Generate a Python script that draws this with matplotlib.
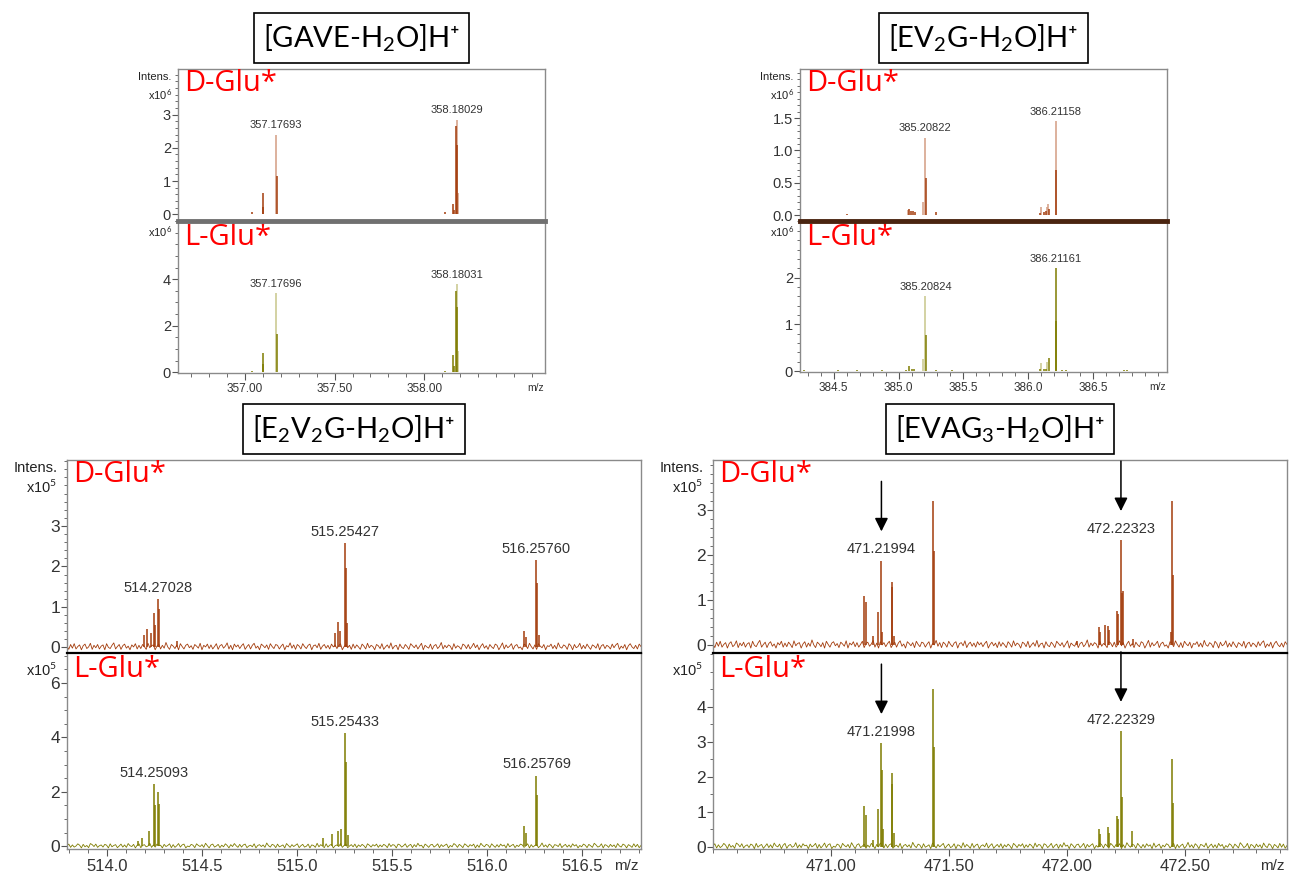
import matplotlib
matplotlib.use('Agg')
import matplotlib.pyplot as plt
from matplotlib.ticker import MultipleLocator, FixedLocator, FormatStrFormatter
import numpy as np

plt.rcParams['font.family'] = 'Liberation Sans'
plt.rcParams['mathtext.fontset'] = 'custom'
plt.rcParams['mathtext.rm'] = 'Lato'
plt.rcParams['mathtext.it'] = 'Lato:italic'
plt.rcParams['mathtext.bf'] = 'Lato:bold'

# ---- data (intensities in units of the panel exponent) ----
# [GAVE-H2O]H+  (x10^6)
gave_d_mz = [357.043, 357.102, 357.105, 357.178, 358.115, 358.160, 358.162, 358.178, 358.183]
gave_d_int = [0.08, 0.65, 0.22, 1.15, 0.06, 0.30, 0.12, 2.65, 2.10]
gave_d_lite_mz = [357.175, 358.181, 358.188]
gave_d_lite_int = [2.40, 2.85, 0.65]
gave_d_labels = ['357.17693', '358.18029']
gave_d_label_mz = [357.175, 358.181]

gave_l_mz = [357.043, 357.102, 357.105, 357.178, 358.115, 358.160, 358.162, 358.178, 358.183]
gave_l_int = [0.05, 0.85, 0.35, 1.65, 0.05, 0.75, 0.25, 3.50, 2.80]
gave_l_lite_mz = [357.175, 358.181, 358.188]
gave_l_lite_int = [3.40, 3.80, 0.90]
gave_l_labels = ['357.17696', '358.18031']
gave_l_label_mz = [357.175, 358.181]

# [EV2G-H2O]H+  (x10^6)
ev2g_d_mz = [384.60, 385.08, 385.095, 385.11, 385.125, 385.21, 385.285, 386.09, 386.12, 386.14, 386.158, 386.215]
ev2g_d_int = [0.02, 0.10, 0.07, 0.06, 0.05, 0.57, 0.05, 0.04, 0.05, 0.07, 0.10, 0.70]
ev2g_d_lite_mz = [385.075, 385.19, 385.207, 386.10, 386.145, 386.153, 386.212]
ev2g_d_lite_int = [0.08, 0.20, 1.20, 0.12, 0.12, 0.18, 1.45]
ev2g_d_labels = ['385.20822', '386.21158']
ev2g_d_label_mz = [385.207, 386.212]

ev2g_l_mz = [384.27, 384.53, 384.68, 384.87, 385.06, 385.08, 385.10, 385.12, 385.21,
             385.29, 385.41, 386.09, 386.12, 386.14, 386.158, 386.212, 386.216, 386.26,
             386.29, 386.74, 386.76]
ev2g_l_int = [0.02, 0.02, 0.02, 0.02, 0.03, 0.10, 0.04, 0.04, 0.78,
              0.03, 0.02, 0.05, 0.04, 0.05, 0.28, 2.20, 1.07, 0.02,
              0.02, 0.02, 0.02]
ev2g_l_lite_mz = [385.19, 385.207, 386.10, 386.145]
ev2g_l_lite_int = [0.25, 1.60, 0.18, 0.20]
ev2g_l_labels = ['385.20824', '386.21161']
ev2g_l_label_mz = [385.207, 386.212]

# [E2V2G-H2O]H+  (x10^5)
e2v2g_d_mz = [514.195, 514.213, 514.232, 514.249, 514.254, 514.271, 514.275, 514.369,
              515.200, 515.217, 515.226, 515.254, 515.258, 515.265,
              516.197, 516.206, 516.258, 516.262, 516.273]
e2v2g_d_int = [0.30, 0.45, 0.35, 0.85, 0.55, 1.20, 0.95, 0.15,
               0.35, 0.62, 0.40, 2.58, 1.95, 0.60,
               0.40, 0.25, 2.15, 1.60, 0.30]
e2v2g_d_labels = ['514.27028', '515.25427', '516.25760']
e2v2g_d_label_mz = [514.271, 515.254, 516.258]

e2v2g_l_mz = [514.163, 514.184, 514.221, 514.249, 514.254, 514.271, 514.275,
              515.139, 515.182, 515.215, 515.230, 515.254, 515.258, 515.269,
              516.197, 516.206, 516.260, 516.265]
e2v2g_l_int = [0.20, 0.30, 0.55, 2.28, 1.50, 2.00, 1.55,
               0.30, 0.45, 0.55, 0.65, 4.15, 3.10, 0.40,
               0.75, 0.50, 2.60, 1.90]
e2v2g_l_labels = ['514.25093', '515.25433', '516.25769']
e2v2g_l_label_mz = [514.249, 515.254, 516.260]

# [EVAG3-H2O]H+  (x10^5)
evag3_d_mz = [471.141, 471.147, 471.179, 471.198, 471.213, 471.216, 471.256, 471.259,
              471.268, 471.431, 471.435, 472.040, 472.133, 472.139, 472.159, 472.171,
              472.176, 472.210, 472.214, 472.227, 472.231, 472.236, 472.278, 472.440,
              472.444, 472.447]
evag3_d_int = [1.10, 0.95, 0.20, 0.75, 1.88, 0.30, 1.40, 1.30,
               0.20, 3.20, 2.10, 0.10, 0.40, 0.30, 0.45, 0.42,
               0.35, 0.76, 0.70, 2.33, 1.15, 1.20, 0.15, 0.30,
               3.20, 1.55]
evag3_d_labels = ['471.21994', '472.22323']
evag3_d_label_mz = [471.213, 472.227]

evag3_l_mz = [471.141, 471.147, 471.179, 471.198, 471.213, 471.216, 471.221, 471.256,
              471.259, 471.268, 471.431, 471.435, 472.133, 472.139, 472.171, 472.176,
              472.210, 472.214, 472.227, 472.231, 472.273, 472.444, 472.447]
evag3_l_int = [1.15, 0.90, 0.20, 1.08, 2.95, 2.20, 0.50, 2.10,
               1.80, 0.40, 4.50, 2.85, 0.50, 0.35, 0.55, 0.40,
               0.86, 0.80, 3.30, 1.43, 0.45, 2.50, 1.25]
evag3_l_labels = ['471.21998', '472.22329']
evag3_l_label_mz = [471.213, 472.227]

noise_a = [
    0.03, -0.05, 0.07, -0.02, 0.09, -0.04, 0.02, 0.06, -0.06, 0.04,
    0.08, -0.03, 0.01, 0.10, -0.05, 0.05, -0.01, 0.07, -0.04, 0.03,
    0.06, -0.06, 0.09, 0.00, -0.03, 0.05, 0.11, -0.04, 0.02, 0.07,
    -0.05, 0.04, 0.08, -0.02, 0.03, -0.06, 0.06, 0.01, 0.09, -0.04,
    0.05, -0.03, 0.07, 0.02, -0.05, 0.10, -0.01, 0.04, 0.06, -0.06,
    0.03, 0.08, -0.04, 0.05, -0.02, 0.12, 0.01, -0.05, 0.07, 0.03,
    -0.03, 0.06, -0.06, 0.09, 0.02, -0.04, 0.05, 0.08, -0.01, 0.04,
    -0.05, 0.07, 0.03, -0.02, 0.10, -0.06, 0.05, 0.01, 0.08, -0.03,
    0.06, -0.04, 0.02, 0.09, -0.05, 0.04, 0.07, -0.02, 0.03, 0.11,
    -0.04, 0.05, -0.06, 0.08, 0.01, 0.06, -0.03, 0.04, 0.09, -0.05,
    0.02, 0.07, -0.04, 0.05, 0.10, -0.02, 0.03, -0.06, 0.08, 0.04,
    -0.01, 0.06, -0.05, 0.09, 0.02, -0.03, 0.07, 0.05, -0.04, 0.03,
    0.08, -0.06, 0.04, 0.01, 0.11, -0.02, 0.06, -0.05, 0.07, 0.03,
    -0.04, 0.09, 0.02, -0.03, 0.05, 0.08, -0.06, 0.04, 0.06, -0.01,
    0.10, -0.05, 0.03, 0.07, -0.02, 0.05, -0.04, 0.08, 0.01, 0.06,
    -0.03, 0.04, 0.09, -0.06, 0.02, 0.07, -0.01, 0.05, -0.05, 0.08]
noise_b = [
    -0.02, 0.06, 0.01, -0.05, 0.08, 0.03, -0.04, 0.10, -0.01, 0.05,
    0.02, -0.06, 0.07, 0.04, -0.03, 0.09, -0.05, 0.01, 0.06, -0.02,
    0.11, -0.04, 0.03, 0.05, -0.06, 0.08, 0.00, -0.03, 0.07, 0.02,
    -0.05, 0.09, 0.04, -0.01, 0.06, -0.04, 0.03, 0.10, -0.06, 0.05,
    0.01, -0.02, 0.08, -0.05, 0.04, 0.07, -0.03, 0.02, 0.12, -0.04,
    0.05, -0.01, 0.06, 0.03, -0.06, 0.09, -0.02, 0.04, 0.01, -0.05,
    0.08, 0.05, -0.03, 0.07, -0.04, 0.02, 0.10, -0.01, 0.06, -0.06,
    0.03, 0.09, -0.02, 0.04, -0.05, 0.07, 0.01, -0.03, 0.08, 0.05,
    -0.06, 0.02, 0.11, -0.04, 0.06, -0.01, 0.03, 0.09, -0.05, 0.04,
    0.07, -0.02, 0.01, -0.06, 0.08, 0.05, -0.03, 0.10, 0.02, -0.04,
    0.06, -0.05, 0.09, 0.03, -0.01, 0.07, -0.06, 0.04, 0.02, 0.08,
    -0.03, 0.05, -0.04, 0.11, 0.01, -0.02, 0.06, 0.03, -0.05, 0.09,
    0.04, -0.06, 0.07, -0.01, 0.02, 0.10, -0.04, 0.05, -0.03, 0.08,
    0.01, -0.05, 0.06, 0.03, -0.02, 0.09, -0.06, 0.04, 0.07, -0.03,
    0.05, 0.02, -0.04, 0.08, -0.01, 0.06, 0.10, -0.05, 0.03, -0.02,
    0.07, -0.06, 0.04, 0.09, 0.01, -0.03, 0.05, -0.04, 0.08, 0.02]
noise_d = noise_a + noise_b
noise_l = noise_b[::-1] + noise_a[::-1]

# ---- style ----
D_COL, D_LITE = '#A33C0C', '#D39C82'
L_COL, L_LITE = '#7F7C00', '#C8C68A'
FRAME = '#8a8a8a'

W, H = 1291, 877
fig = plt.figure(figsize=(W / 100, H / 100), dpi=100)
fig.patch.set_facecolor('white')


def px_axes(l, r, t, b):
    return fig.add_axes([l / W, 1 - b / H, (r - l) / W, (b - t) / H])


def style_axes(ax, ylim, ymaj, ymax, ymin, yfmt, ysize):
    ax.set_ylim(*ylim)
    ax.yaxis.set_major_locator(FixedLocator(np.arange(0, ymax + 1e-6, ymaj)))
    ax.yaxis.set_minor_locator(MultipleLocator(ymin))
    ax.yaxis.set_major_formatter(FormatStrFormatter(yfmt))
    for s in ax.spines.values():
        s.set_color(FRAME)
        s.set_linewidth(1)
    ax.tick_params(axis='y', which='major', direction='out', length=4, width=0.8,
                   color='#555555', labelsize=ysize, labelcolor='#333333', pad=1)
    ax.tick_params(axis='y', which='minor', direction='out', length=2.5, width=0.6,
                   color='#555555')


def draw_spec(ax, mz, inten, lite_mz, lite_int, col, lite, lw):
    ax.vlines(lite_mz, 0, lite_int, colors=lite, lw=lw)
    ax.vlines(mz, 0, inten, colors=col, lw=lw)


def peak_top(all_mz, all_int, target):
    return max(h for m, h in zip(all_mz, all_int) if abs(m - target) < 0.012)


def label_peaks(ax, all_mz, all_int, lab_mz, labs, size, arrows=False):
    for m, t in zip(lab_mz, labs):
        h = peak_top(all_mz, all_int, m)
        ax.annotate(t, xy=(m, h), xytext=(0, 3), textcoords='offset points',
                    ha='center', va='bottom', fontsize=size, color='#333333')
        if arrows:
            ax.annotate('', xy=(m, h), xytext=(0, 57), textcoords='offset points',
                        annotation_clip=False,
                        arrowprops=dict(arrowstyle='-|>', color='black', lw=1.1,
                                        mutation_scale=20, shrinkA=0, shrinkB=21))


def panel(title, box, xlim, xmajor, xfmt, expo, d, l, sep, small):
    left, right, top, mid, bottom = box
    axd = px_axes(left, right, top, mid)
    axl = px_axes(left, right, mid, bottom)
    fs_tick = 10.5 if small else 12.5
    fs_x = 8.5 if small else 12
    fs_lab = 8 if small else 10.5
    fs_int = 8 if small else 10.5
    for ax, c in ((axd, d), (axl, l)):
        ax.set_xlim(*xlim)
        style_axes(ax, c['ylim'], c['ymaj'], c['ymax'], c['ymin'], c['yfmt'], fs_tick)
        if c.get('noise') is not None:
            nz = c['noise']
            ax.plot(np.linspace(xlim[0], xlim[1], len(nz)), nz, color=c['col'], lw=0.6)
        draw_spec(ax, c['mz'], c['int'], c['lite_mz'], c['lite_int'],
                  c['col'], c['lite'], 1.1)
        label_peaks(ax, c['mz'] + c['lite_mz'], c['int'] + c['lite_int'],
                    c['lab_mz'], c['labs'], fs_lab, arrows=c.get('arrows', False))
        ax.text(0.01 if not small else 0.018, c['ty'], c['name'], transform=ax.transAxes,
                ha='left', va='top', color='red', fontsize=21, family='Open Sans')
        ax.text(-0.017, c['xy'], 'x10$^{%d}$' % expo, transform=ax.transAxes,
                ha='right', va='center', fontsize=fs_int, color='#222222')
    axd.text(-0.017, d['iy'], 'Intens.', transform=axd.transAxes, ha='right',
             va='center', fontsize=fs_int, color='#222222')

    axd.tick_params(axis='x', which='both', bottom=False, labelbottom=False)
    axd.spines['bottom'].set_visible(False)
    axl.spines['top'].set_color(sep[0])
    axl.spines['top'].set_linewidth(sep[1])
    axl.spines['top'].set_zorder(5)

    axl.xaxis.set_major_locator(FixedLocator(xmajor))
    axl.xaxis.set_major_formatter(FormatStrFormatter(xfmt))
    axl.xaxis.set_minor_locator(MultipleLocator(0.1))
    axl.tick_params(axis='x', which='major', direction='out', length=5, width=0.8,
                    color='#555555', labelsize=fs_x, labelcolor='#333333', pad=2)
    axl.tick_params(axis='x', which='minor', direction='out', length=3, width=0.6,
                    color='#555555')
    axl.annotate('m/z', xy=(0.975, 0), xycoords='axes fraction', xytext=(0, -7),
                 textcoords='offset points', ha='center', va='top',
                 fontsize=fs_x - 1, color='#333333')

    cx = (left + right) / 2
    fig.text(cx / W, 1 - (top - 31) / H, title, ha='center', va='center',
             fontsize=21, family=['Lato', 'DejaVu Sans'],
             bbox=dict(boxstyle='square,pad=0.32', fc='white', ec='black', lw=1.2))
    return axd, axl


def cfg(name, mz, inten, lite_mz, lite_int, labs, lab_mz, col, lite, ylim, ymaj, ymax,
        ymin, yfmt, ty, xy, iy=None, nz=None, arrows=False):
    return dict(name=name, mz=mz, int=inten, lite_mz=lite_mz, lite_int=lite_int,
                labs=labs, lab_mz=lab_mz, col=col, lite=lite, ylim=ylim, ymaj=ymaj,
                ymax=ymax, ymin=ymin, yfmt=yfmt, ty=ty, xy=xy, iy=iy, noise=nz,
                arrows=arrows)


# panel 1: GAVE
panel('[GAVE-H$_2$O]H⁺', (178, 545, 69, 221, 373), (356.63, 358.67),
      [357.0, 357.5, 358.0], '%.2f', 6,
      cfg('D-Glu*', gave_d_mz, gave_d_int, gave_d_lite_mz, gave_d_lite_int,
          gave_d_labels, gave_d_label_mz, D_COL, D_LITE, (-0.2, 4.37), 1, 3, 0.2, '%d',
          1.0, 0.83, iy=0.945),
      cfg('L-Glu*', gave_l_mz, gave_l_int, gave_l_lite_mz, gave_l_lite_int,
          gave_l_labels, gave_l_label_mz, L_COL, L_LITE, (-0.03, 6.5), 2, 4, 0.5, '%d',
          0.99, 0.93),
      ('#707070', 3.5), True)

# panel 2: EV2G
panel('[EV$_2$G-H$_2$O]H⁺', (800, 1167, 69, 221, 372), (384.24, 387.07),
      [384.5, 385.0, 385.5, 386.0, 386.5], '%.1f', 6,
      cfg('D-Glu*', ev2g_d_mz, ev2g_d_int, ev2g_d_lite_mz, ev2g_d_lite_int,
          ev2g_d_labels, ev2g_d_label_mz, D_COL, D_LITE, (-0.09, 2.26), 0.5, 1.5, 0.1,
          '%.1f', 1.0, 0.83, iy=0.945),
      cfg('L-Glu*', ev2g_l_mz, ev2g_l_int, ev2g_l_lite_mz, ev2g_l_lite_int,
          ev2g_l_labels, ev2g_l_label_mz, L_COL, L_LITE, (-0.02, 3.21), 1, 2, 0.2, '%d',
          0.99, 0.93),
      ('#4a2410', 3.5), True)

# panel 3: E2V2G
panel('[E$_2$V$_2$G-H$_2$O]H⁺', (67, 641, 460, 653, 849), (513.79, 516.81),
      [514.0, 514.5, 515.0, 515.5, 516.0, 516.5], '%.1f', 5,
      cfg('D-Glu*', e2v2g_d_mz, e2v2g_d_int, [], [], e2v2g_d_labels, e2v2g_d_label_mz,
          D_COL, D_LITE, (-0.14, 4.63), 1, 3, 0.2, '%d', 1.0, 0.86, iy=0.96, nz=noise_d),
      cfg('L-Glu*', e2v2g_l_mz, e2v2g_l_int, [], [], e2v2g_l_labels, e2v2g_l_label_mz,
          L_COL, L_LITE, (-0.1, 7.1), 2, 6, 0.5, '%d', 0.99, 0.91, nz=noise_l),
      ('black', 1.6), False)

# panel 4: EVAG3
panel('[EVAG$_3$-H$_2$O]H⁺', (713, 1287, 460, 653, 849), (470.50, 472.93),
      [471.0, 471.5, 472.0, 472.5], '%.2f', 5,
      cfg('D-Glu*', evag3_d_mz, evag3_d_int, [], [], evag3_d_labels, evag3_d_label_mz,
          D_COL, D_LITE, (-0.17, 4.11), 1, 3, 0.2, '%d', 1.0, 0.86, iy=0.96, nz=noise_d,
          arrows=True),
      cfg('L-Glu*', evag3_l_mz, evag3_l_int, [], [], evag3_l_labels, evag3_l_label_mz,
          L_COL, L_LITE, (-0.07, 5.53), 1, 4, 0.5, '%d', 0.99, 0.91, nz=noise_l,
          arrows=True),
      ('black', 1.6), False)

plt.savefig('out.png', dpi=100, facecolor='white')
plt.close()
print('Saved: out.png')
